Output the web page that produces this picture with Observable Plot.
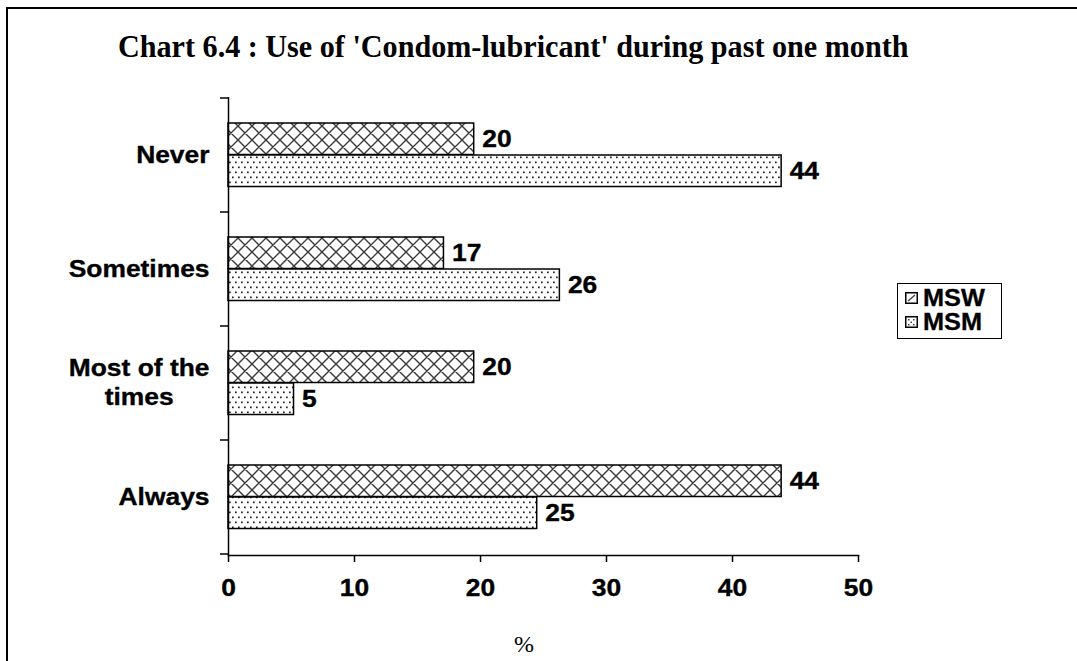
<!DOCTYPE html>
<html>
<head>
<meta charset="utf-8">
<script src="https://cdn.jsdelivr.net/npm/d3@7"></script>
<script src="https://cdn.jsdelivr.net/npm/@observablehq/plot@0.6"></script>
<style>
html, body { margin: 0; padding: 0; background: #fff; }
#wrap { position: relative; width: 1077px; height: 661px; overflow: hidden; background: #fff; }
#chart { position: absolute; left: 0; top: 0; }
#frame { position: absolute; left: 6px; top: 7px; width: 1200px; height: 800px; border: 2px solid #000; box-sizing: border-box; pointer-events: none; }
#title { position: absolute; left: 118px; top: 28px; font-family: "Liberation Serif", "Times New Roman", serif; font-weight: bold; font-size: 32px; white-space: nowrap; color: #000; transform: scaleX(0.942); transform-origin: left center; }
#xlabel { position: absolute; left: 499px; width: 50px; text-align: center; top: 630px; line-height: 28px; font-family: "Liberation Serif", "Times New Roman", serif; font-size: 24px; color: #000; }
#legend { position: absolute; left: 897px; top: 283px; width: 105px; height: 56px; border: 1.5px solid #000; box-sizing: border-box; background: #fff; }
#legend .item { position: absolute; left: 7px; height: 24px; display: flex; align-items: center; }
#legend .item svg { display: block; margin-right: 5px; }
#legend .item span { display: inline-block; font-family: "Liberation Sans", Arial, sans-serif; font-weight: bold; font-size: 23px; transform: scaleX(1.1); transform-origin: left center; color: #000; -webkit-text-stroke: 0.3px #000; }
</style>
</head>
<body>
<div id="wrap">
  <div id="chart"></div>
  <div id="title">Chart 6.4 : Use of 'Condom-lubricant' during past one month</div>
  <div id="xlabel">%</div>
  <div id="legend"></div>
  <div id="frame"></div>
</div>
<script>
// ---- data ----
const categories = ["Never", "Sometimes", "Most of the times", "Always"];
const categoryLabels = ["Never", "Sometimes", "Most of the\ntimes", "Always"];
const seriesNames = ["MSW", "MSM"];
const mswValues = [19.5, 17.1, 19.5, 43.9];
const msmValues = [43.9, 26.3, 5.2, 24.5];
const xTicks = [0, 10, 20, 30, 40, 50];

const msw = categories.map((c, i) => ({ category: c, value: mswValues[i] }));
const msm = categories.map((c, i) => ({ category: c, value: msmValues[i] }));

const SX = 1.1; // horizontal stretch of sans text
const textStyle = { fontSize: 24, fontWeight: "bold", fill: "#000" };

const plot = Plot.plot({
  width: 1077,
  height: 661,
  marginTop: 97,
  marginBottom: 106,
  marginLeft: 228,
  marginRight: 219,
  style: { background: "transparent", fontFamily: '"Liberation Sans", Arial, sans-serif', color: "#000", overflow: "visible" },
  x: { domain: [0, 50], ticks: xTicks },
  y: { domain: categories, padding: 0, axis: null },
  marks: [
    Plot.barX(msw, { x: "value", y: "category", fill: "url(#pat-msw)", stroke: "#000", strokeWidth: 1.5, insetTop: 25, insetBottom: 57.5 }),
    Plot.barX(msm, { x: "value", y: "category", fill: "url(#pat-msm)", stroke: "#000", strokeWidth: 1.5, insetTop: 57, insetBottom: 25.5 }),
    Plot.text(msw, { x: "value", y: "category", text: d => String(Math.round(d.value)), dx: 8, dy: -16, textAnchor: "start", ...textStyle }),
    Plot.text(msm, { x: "value", y: "category", text: d => String(Math.round(d.value)), dx: 8, dy: 16, textAnchor: "start", ...textStyle }),
    Plot.text(categories, { y: d => d, frameAnchor: "left", dx: -19, dy: -2, textAnchor: "end", text: (d, i) => categoryLabels[i], lineHeight: 1.2, ...textStyle }),
    Plot.axisX({ ticks: xTicks, tickSize: 7, tickPadding: 16, label: null, strokeWidth: 1.5, fontSize: 24, fontWeight: "bold" }),
    Plot.ruleX([0], { stroke: "#000", strokeWidth: 1.5 }),
    Plot.frame({ anchor: "bottom", stroke: "#000", strokeWidth: 1.5 })
  ]
});

document.getElementById("chart").appendChild(plot);
const svg = d3.select(plot);

// patterns
const defs = svg.insert("defs", ":first-child");
const p1 = defs.append("pattern").attr("id", "pat-msw").attr("patternUnits", "userSpaceOnUse").attr("width", 14).attr("height", 14);
p1.append("rect").attr("width", 14).attr("height", 14).attr("fill", "#fff");
p1.append("path").attr("d", "M0,0L14,14M14,0L0,14M-1,13L1,15M13,-1L15,1M-1,1L1,-1M13,15L15,13").attr("stroke", "#3a3a3a").attr("stroke-width", 1.4).attr("fill", "none");
const p2 = defs.append("pattern").attr("id", "pat-msm").attr("patternUnits", "userSpaceOnUse").attr("width", 6).attr("height", 10);
p2.append("rect").attr("width", 6).attr("height", 10).attr("fill", "#fff");
p2.append("rect").attr("x", 1).attr("y", 1.5).attr("width", 1.7).attr("height", 1.7).attr("fill", "#222");
p2.append("rect").attr("x", 4).attr("y", 6.5).attr("width", 1.7).attr("height", 1.7).attr("fill", "#222");

// band-boundary ticks on the category axis
const ys = plot.scale("y");
const xs = plot.scale("x");
const x0 = xs.apply(0);
const bounds = categories.map(c => ys.apply(c)).concat([ys.apply(categories[categories.length - 1]) + ys.bandwidth]);
svg.append("g").selectAll("line").data(bounds).join("line")
  .attr("x1", x0 - 8).attr("x2", x0).attr("y1", d => d).attr("y2", d => d)
  .attr("stroke", "#000").attr("stroke-width", 1.5);

// center multi-line category labels and stretch sans text
plot.querySelectorAll("text").forEach(t => {
  let tr = t.getAttribute("transform") || "";
  const x = +(t.getAttribute("x") || 0), y = +(t.getAttribute("y") || 0);
  if (t.hasAttribute("x") && !t.querySelector("tspan")) {
    t.removeAttribute("x"); t.removeAttribute("y");
    tr += ` translate(${x},${y})`;
  }
  const spans = t.querySelectorAll("tspan");
  if (spans.length > 1) {
    let w = 0;
    spans.forEach(s => { w = Math.max(w, s.getComputedTextLength()); });
    t.setAttribute("text-anchor", "middle");
    tr += ` translate(${-w * SX / 2},0)`;
  }
  t.setAttribute("transform", tr + ` scale(${SX},1)`);
  t.style.paintOrder = "stroke";
  t.setAttribute("stroke", "#000");
  t.setAttribute("stroke-width", 0.35);
});

// legend
const legend = d3.select("#legend");
const tops = [2, 26];
seriesNames.forEach((name, i) => {
  const item = legend.append("div").attr("class", "item").style("top", tops[i] + "px");
  const s = item.append("svg").attr("width", 13).attr("height", 12);
  s.append("rect").attr("x", 0.75).attr("y", 0.75).attr("width", 11.5).attr("height", 10.5).attr("fill", "#fff").attr("stroke", "#000").attr("stroke-width", 1.5);
  if (i === 0) {
    s.append("path").attr("d", "M3,9L10,3").attr("stroke", "#444").attr("stroke-width", 1.4);
  } else {
    s.append("path").attr("d", "M3,3h1.5v1.5h-1.5zM8,3h1.5v1.5h-1.5zM5.5,5.5h1.5v1.5h-1.5zM3,8h1.5v1.5h-1.5zM8,8h1.5v1.5h-1.5z").attr("fill", "#444");
  }
  item.append("span").text(name);
});
</script>
</body>
</html>
